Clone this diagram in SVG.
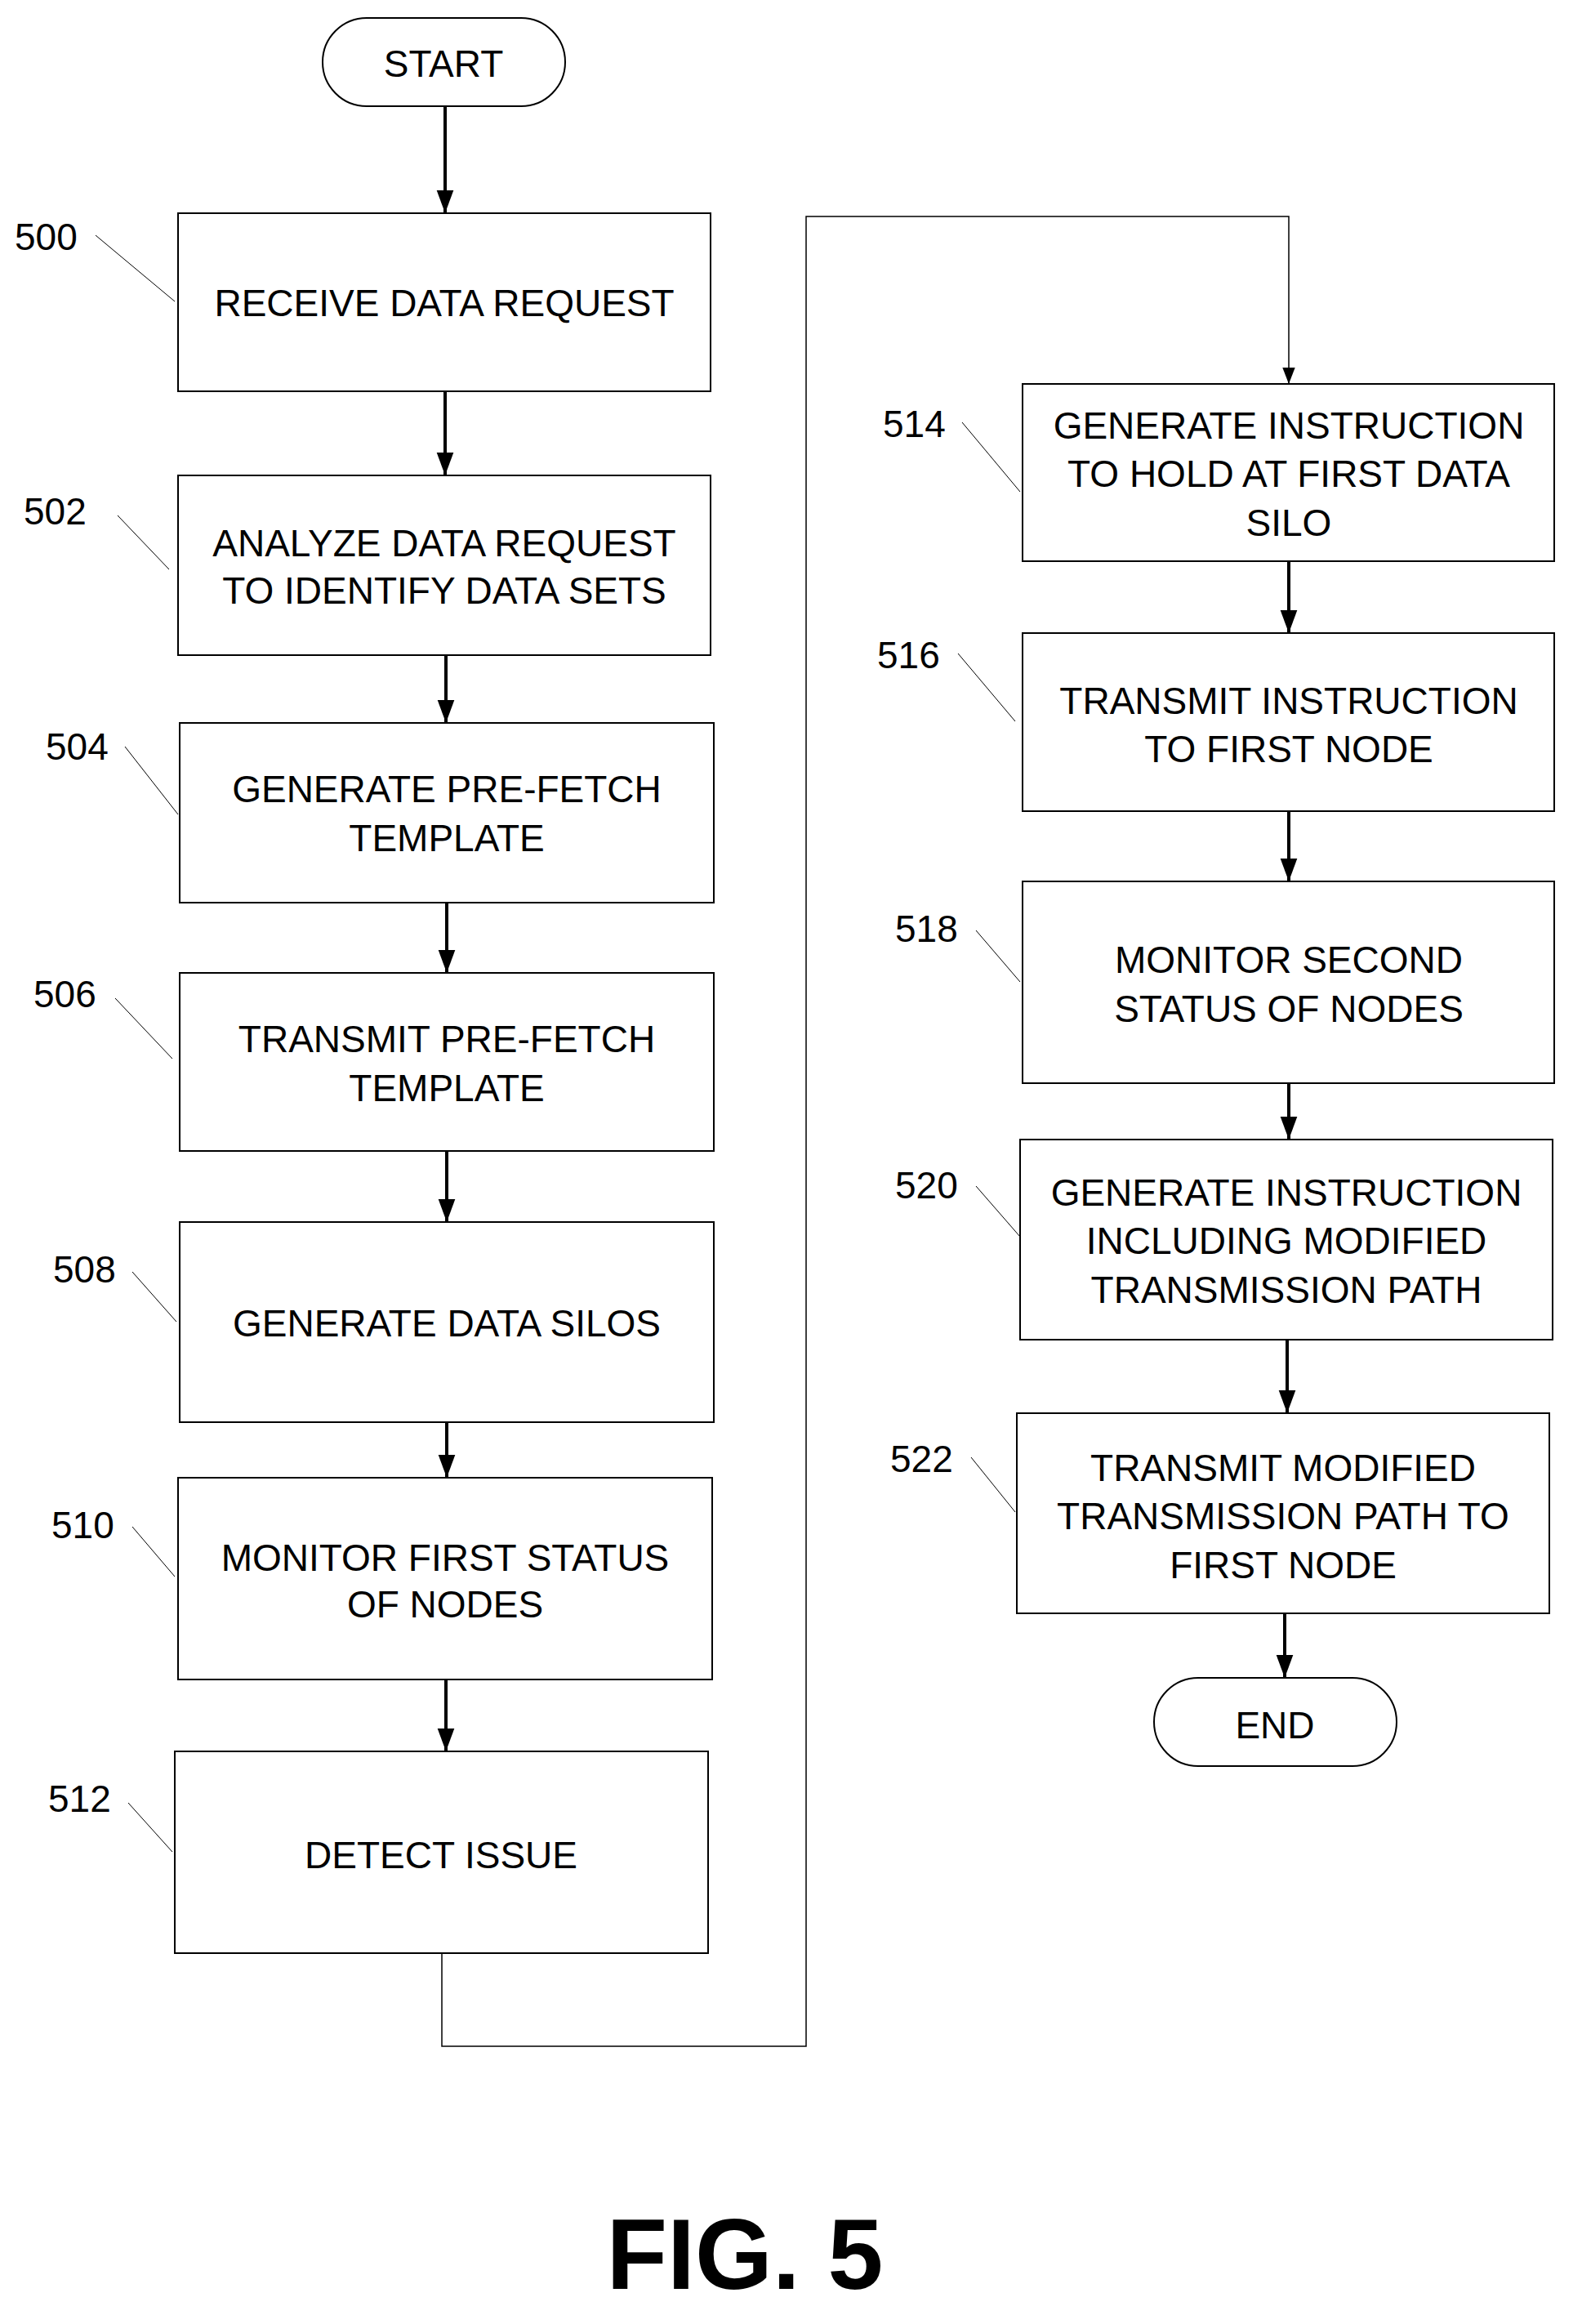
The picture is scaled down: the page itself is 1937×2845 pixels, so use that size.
<svg xmlns="http://www.w3.org/2000/svg" width="1937" height="2845" viewBox="0 0 1937 2845">
<style>
.b{fill:#fff;stroke:#000;stroke-width:2}
.t{font-family:"Liberation Sans",Arial,sans-serif;font-size:46px;text-anchor:middle;fill:#000}
.l{font-family:"Liberation Sans",Arial,sans-serif;font-size:46px;fill:#000}
.ld{stroke:#000;stroke-width:1;fill:none}
.c{stroke:#000;stroke-width:4;fill:none}
.c2{stroke:#000;stroke-width:1.5;fill:none}
</style>
<defs>
<marker id="a" markerUnits="userSpaceOnUse" markerWidth="28" markerHeight="38" refX="14" refY="38" orient="auto-start-reverse" viewBox="0 0 28 38"><path d="M0,0 L28,0 L14,38 Z" fill="#000" transform="rotate(0)"/></marker>
<marker id="d" markerUnits="userSpaceOnUse" markerWidth="28" markerHeight="38" refX="38" refY="14" orient="auto" viewBox="0 0 38 28"><path d="M0,0 L38,14 L0,28 Z" fill="#000"/></marker>
<marker id="s" markerUnits="userSpaceOnUse" markerWidth="20" markerHeight="26" refX="26" refY="10" orient="auto" viewBox="0 0 26 20"><path d="M0,0 L26,10 L0,20 Z" fill="#000"/></marker>
</defs>
<g id="connectors">
<path class="c" marker-end="url(#d)" d="M545,130 V261"/>
<path class="c" marker-end="url(#d)" d="M545,479 V582"/>
<path class="c" marker-end="url(#d)" d="M546,802 V885"/>
<path class="c" marker-end="url(#d)" d="M547,1105 V1191"/>
<path class="c" marker-end="url(#d)" d="M547,1409 V1496"/>
<path class="c" marker-end="url(#d)" d="M547,1741 V1809"/>
<path class="c" marker-end="url(#d)" d="M546,2056 V2144"/>
<path class="c2" marker-end="url(#s)" d="M541,2391 V2505 H987 V265 H1578 V470"/>
<path class="c" marker-end="url(#d)" d="M1578,687 V775"/>
<path class="c" marker-end="url(#d)" d="M1578,993 V1079"/>
<path class="c" marker-end="url(#d)" d="M1578,1326 V1395"/>
<path class="c" marker-end="url(#d)" d="M1576,1640 V1730"/>
<path class="c" marker-end="url(#d)" d="M1573,1975 V2054"/>
</g>
<g id="start"><rect class="b" x="395" y="22" width="297" height="108" rx="54"/><text class="t" x="543" y="94">START</text></g>
<g id="n500"><rect class="b" x="218" y="261" width="652" height="218"/><text class="t" x="544" y="387">RECEIVE DATA REQUEST</text><text class="l" x="18" y="306">500</text><path class="ld" d="M117,288 L214,369"/></g>
<g id="n502"><rect class="b" x="218" y="582" width="652" height="220"/><text class="t" x="544" y="681">ANALYZE DATA REQUEST</text><text class="t" x="544" y="739">TO IDENTIFY DATA SETS</text><text class="l" x="29" y="642">502</text><path class="ld" d="M144,631 L207,697"/></g>
<g id="n504"><rect class="b" x="220" y="885" width="654" height="220"/><text class="t" x="547" y="982">GENERATE PRE-FETCH</text><text class="t" x="547" y="1042">TEMPLATE</text><text class="l" x="56" y="930">504</text><path class="ld" d="M153,914 L218,997"/></g>
<g id="n506"><rect class="b" x="220" y="1191" width="654" height="218"/><text class="t" x="547" y="1288">TRANSMIT PRE-FETCH</text><text class="t" x="547" y="1348">TEMPLATE</text><text class="l" x="41" y="1233">506</text><path class="ld" d="M141,1222 L211,1296"/></g>
<g id="n508"><rect class="b" x="220" y="1496" width="654" height="245"/><text class="t" x="547" y="1636">GENERATE DATA SILOS</text><text class="l" x="65" y="1570">508</text><path class="ld" d="M162,1557 L216,1618"/></g>
<g id="n510"><rect class="b" x="218" y="1809" width="654" height="247"/><text class="t" x="545" y="1923">MONITOR FIRST STATUS</text><text class="t" x="545" y="1980">OF NODES</text><text class="l" x="63" y="1883">510</text><path class="ld" d="M162,1869 L214,1930"/></g>
<g id="n512"><rect class="b" x="214" y="2144" width="653" height="247"/><text class="t" x="540" y="2287">DETECT ISSUE</text><text class="l" x="59" y="2218">512</text><path class="ld" d="M157,2207 L211,2267"/></g>
<g id="n514"><rect class="b" x="1252" y="470" width="651" height="217"/><text class="t" x="1578" y="537">GENERATE INSTRUCTION</text><text class="t" x="1578" y="596">TO HOLD AT FIRST DATA</text><text class="t" x="1578" y="656">SILO</text><text class="l" x="1081" y="535">514</text><path class="ld" d="M1178,517 L1249,602"/></g>
<g id="n516"><rect class="b" x="1252" y="775" width="651" height="218"/><text class="t" x="1578" y="874">TRANSMIT INSTRUCTION</text><text class="t" x="1578" y="933">TO FIRST NODE</text><text class="l" x="1074" y="818">516</text><path class="ld" d="M1173,800 L1243,883"/></g>
<g id="n518"><rect class="b" x="1252" y="1079" width="651" height="247"/><text class="t" x="1578" y="1191">MONITOR SECOND</text><text class="t" x="1578" y="1251">STATUS OF NODES</text><text class="l" x="1096" y="1153">518</text><path class="ld" d="M1195,1139 L1249,1202"/></g>
<g id="n520"><rect class="b" x="1249" y="1395" width="652" height="245"/><text class="t" x="1575" y="1476">GENERATE INSTRUCTION</text><text class="t" x="1575" y="1535">INCLUDING MODIFIED</text><text class="t" x="1575" y="1595">TRANSMISSION PATH</text><text class="l" x="1096" y="1467">520</text><path class="ld" d="M1195,1452 L1249,1514"/></g>
<g id="n522"><rect class="b" x="1245" y="1730" width="652" height="245"/><text class="t" x="1571" y="1813">TRANSMIT MODIFIED</text><text class="t" x="1571" y="1872">TRANSMISSION PATH TO</text><text class="t" x="1571" y="1932">FIRST NODE</text><text class="l" x="1090" y="1802">522</text><path class="ld" d="M1189,1784 L1243,1851"/></g>
<g id="end"><rect class="b" x="1413" y="2054" width="297" height="108" rx="54"/><text class="t" x="1561" y="2128">END</text></g>
<text x="912" y="2802" style="font-family:'Liberation Sans',Arial,sans-serif;font-size:122px;font-weight:bold;text-anchor:middle">FIG. 5</text>
</svg>
